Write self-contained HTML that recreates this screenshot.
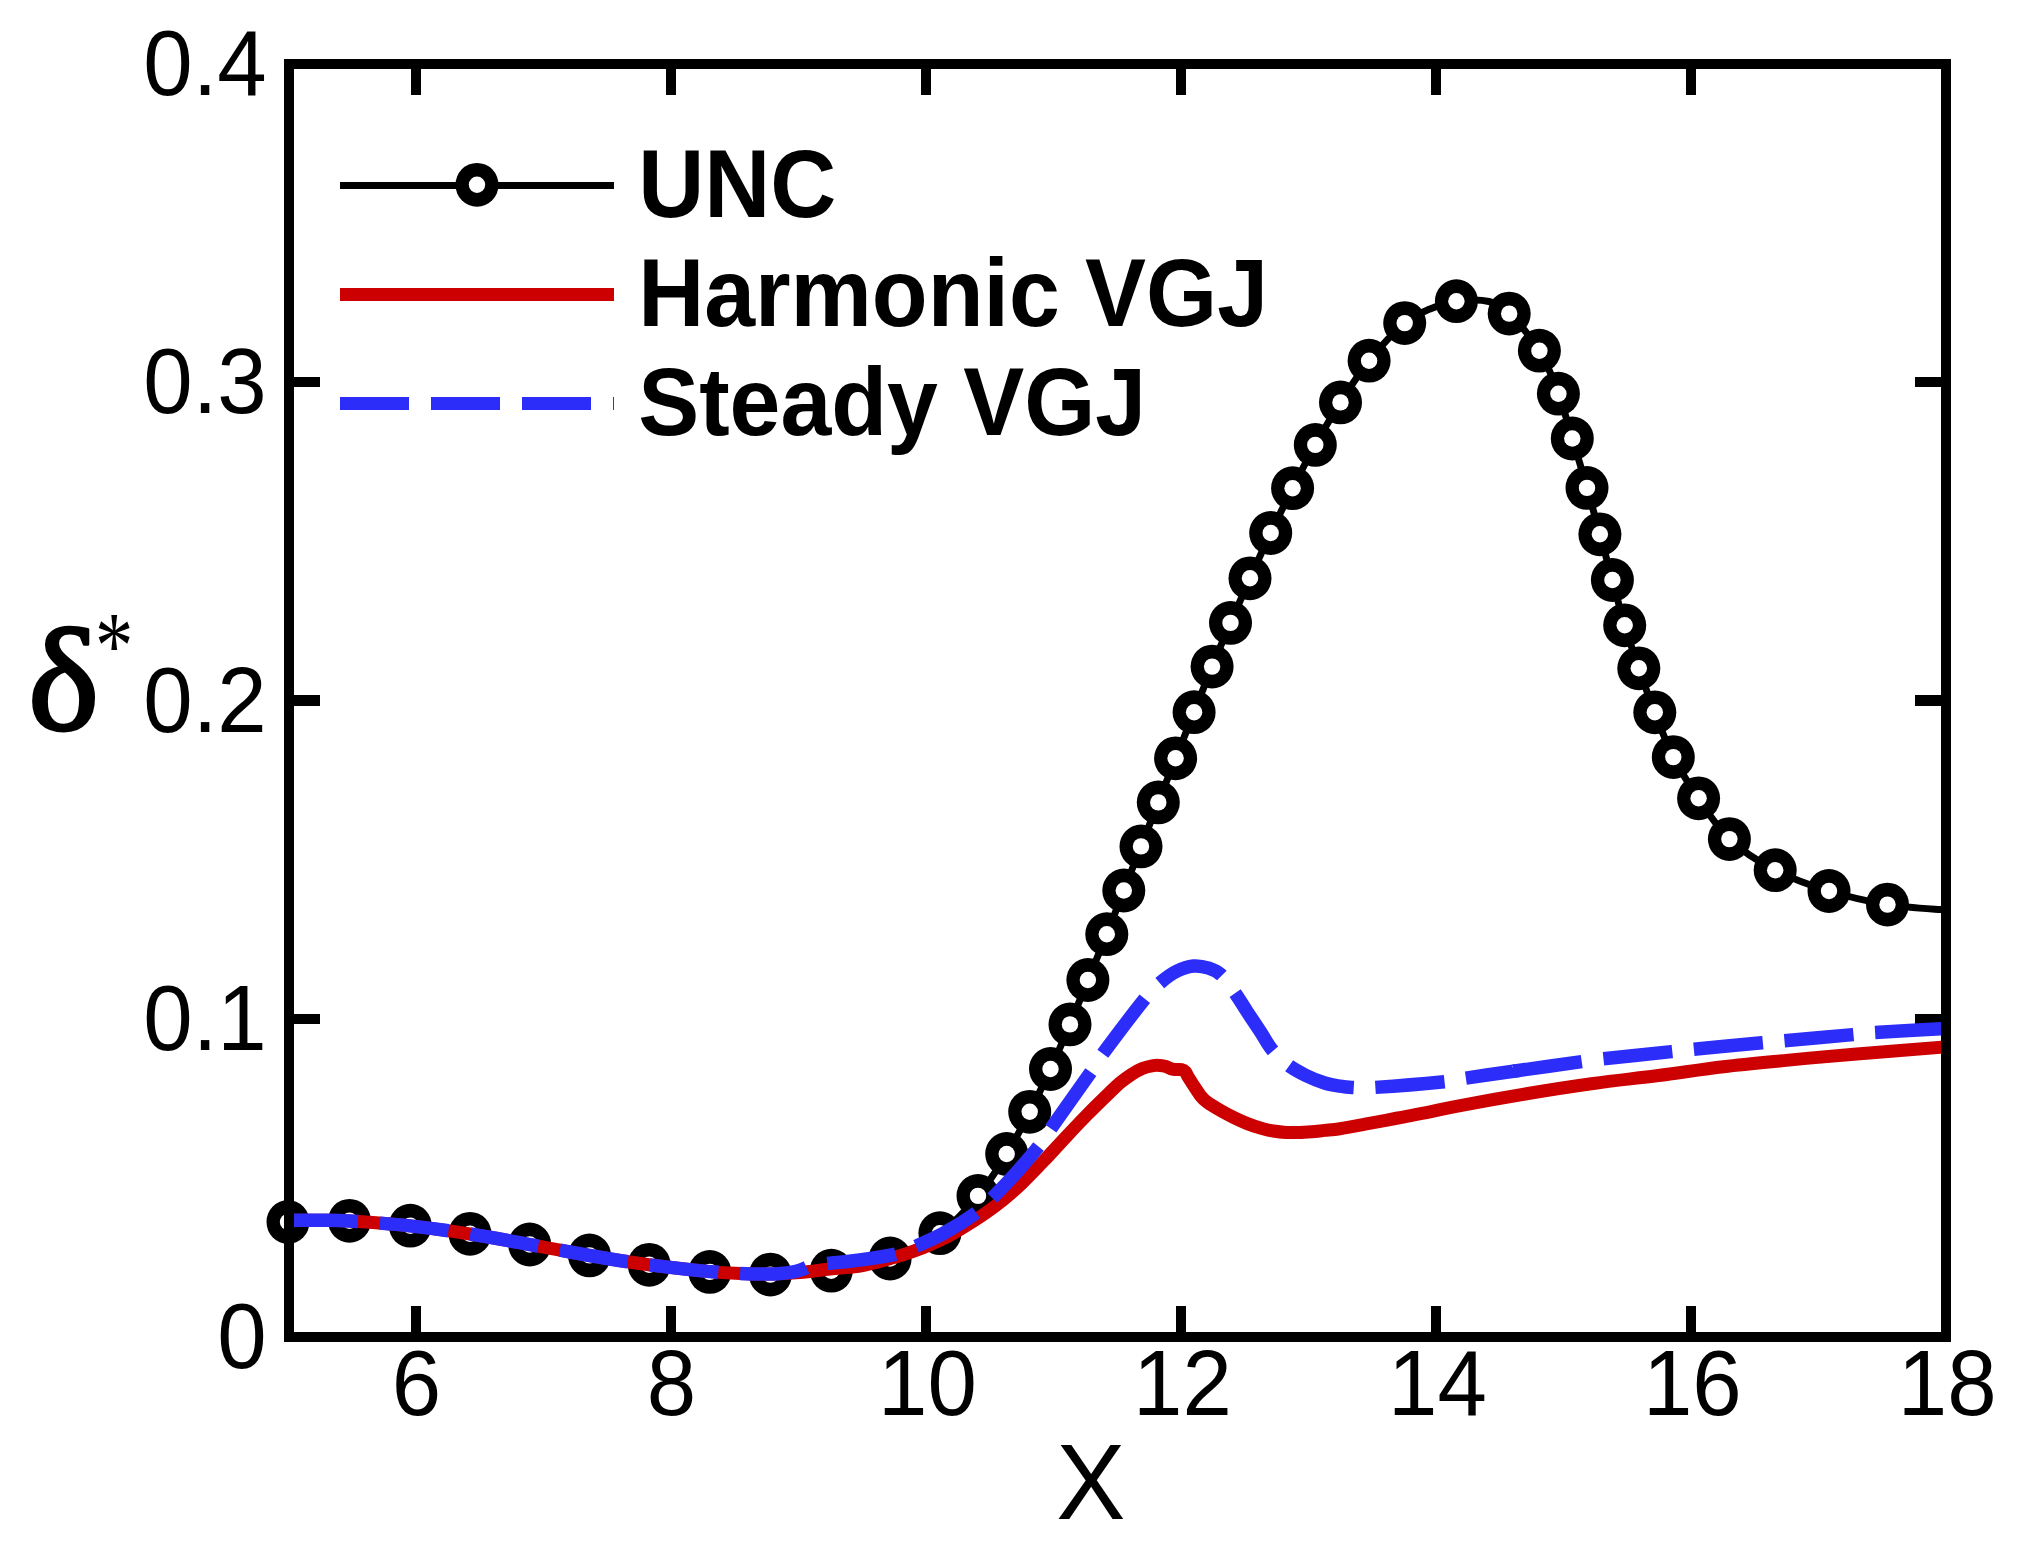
<!DOCTYPE html>
<html lang="en"><head><meta charset="utf-8"><title>Displacement thickness</title>
<style>html,body{margin:0;padding:0;background:#fff;}body{width:2026px;height:1553px;overflow:hidden;}svg{display:block;}.t{font-family:"Liberation Sans",sans-serif;fill:#000;}.tb{font-family:"Liberation Sans",sans-serif;font-weight:bold;fill:#000;}.ts{font-family:"Liberation Serif","DejaVu Serif",serif;fill:#000;}</style></head><body>
<svg width="2026" height="1553" viewBox="0 0 2026 1553">
<rect x="0" y="0" width="2026" height="1553" fill="#fff"/>
<defs><clipPath id="vp"><rect x="294.0" y="69.0" width="1647.0" height="1263.0"/></clipPath><g id="mk"><ellipse rx="21.5" ry="21.9" fill="#000"/><circle r="8.2" fill="#fff"/></g></defs>
<g stroke="#000" stroke-width="10.0" fill="none" shape-rendering="crispEdges">
<line x1="416.0" y1="1337.0" x2="416.0" y2="1306.0"/>
<line x1="416.0" y1="64.0" x2="416.0" y2="95.0"/>
<line x1="671.0" y1="1337.0" x2="671.0" y2="1306.0"/>
<line x1="671.0" y1="64.0" x2="671.0" y2="95.0"/>
<line x1="926.0" y1="1337.0" x2="926.0" y2="1306.0"/>
<line x1="926.0" y1="64.0" x2="926.0" y2="95.0"/>
<line x1="1181.0" y1="1337.0" x2="1181.0" y2="1306.0"/>
<line x1="1181.0" y1="64.0" x2="1181.0" y2="95.0"/>
<line x1="1436.0" y1="1337.0" x2="1436.0" y2="1306.0"/>
<line x1="1436.0" y1="64.0" x2="1436.0" y2="95.0"/>
<line x1="1691.0" y1="1337.0" x2="1691.0" y2="1306.0"/>
<line x1="1691.0" y1="64.0" x2="1691.0" y2="95.0"/>
<line x1="289.0" y1="1019.0" x2="320.0" y2="1019.0"/>
<line x1="1946.0" y1="1019.0" x2="1915.0" y2="1019.0"/>
<line x1="289.0" y1="700.5" x2="320.0" y2="700.5" stroke-width="11"/>
<line x1="1946.0" y1="700.5" x2="1915.0" y2="700.5" stroke-width="11"/>
<line x1="289.0" y1="382.0" x2="320.0" y2="382.0"/>
<line x1="1946.0" y1="382.0" x2="1915.0" y2="382.0"/>
</g>
<path clip-path="url(#vp)" d="M284.0,1222.0C284.7,1222.0 277.1,1222.2 288.0,1222.0C298.9,1221.8 329.1,1220.2 349.5,1220.8C369.9,1221.4 390.2,1223.5 410.3,1225.7C430.4,1227.9 450.1,1230.7 470.0,1233.8C489.9,1236.9 509.8,1240.9 529.7,1244.5C549.6,1248.1 569.6,1252.0 589.5,1255.4C609.4,1258.8 629.2,1262.0 649.2,1264.8C669.2,1267.5 689.6,1270.3 709.8,1271.9C730.0,1273.5 750.1,1274.8 770.4,1274.6C790.6,1274.4 811.3,1273.4 831.3,1270.7C851.2,1268.0 872.0,1264.8 890.1,1258.5C908.2,1252.2 925.2,1243.6 939.9,1233.2C954.5,1222.8 966.9,1209.1 978.0,1195.9C989.1,1182.7 998.1,1168.0 1006.7,1154.0C1015.3,1140.0 1022.4,1126.0 1029.7,1111.8C1037.0,1097.6 1043.8,1083.6 1050.5,1069.0C1057.2,1054.4 1063.8,1039.2 1070.0,1024.4C1076.2,1009.6 1081.8,995.0 1087.9,980.0C1094.0,965.0 1100.8,949.1 1106.8,934.2C1112.8,919.3 1118.1,905.1 1123.8,890.5C1129.5,875.9 1135.2,861.1 1141.0,846.4C1146.8,831.7 1152.5,817.1 1158.3,802.4C1164.1,787.7 1169.6,773.3 1175.6,758.3C1181.6,743.3 1188.0,727.5 1194.1,712.2C1200.2,696.9 1206.0,681.5 1212.1,666.6C1218.2,651.7 1224.2,637.6 1230.5,622.9C1236.8,608.2 1243.3,593.3 1250.0,578.3C1256.7,563.3 1263.6,548.0 1270.7,533.0C1277.8,518.0 1285.2,502.9 1292.6,488.2C1300.0,473.5 1307.3,459.2 1315.3,444.9C1323.3,430.6 1331.5,416.4 1340.5,402.4C1349.5,388.4 1358.4,373.9 1369.1,360.7C1379.8,347.5 1394.5,331.7 1404.7,323.1C1414.9,314.5 1421.4,312.6 1430.0,309.0C1438.6,305.4 1446.6,302.4 1456.4,301.2C1466.2,299.9 1480.2,299.4 1489.0,301.5C1497.8,303.6 1500.8,305.4 1509.2,313.6C1517.6,321.8 1531.2,337.4 1539.4,350.7C1547.6,364.0 1552.9,379.1 1558.4,393.7C1563.9,408.3 1567.5,422.8 1572.3,438.5C1577.1,454.2 1582.4,471.9 1587.0,487.9C1591.6,503.9 1595.7,518.9 1599.9,534.3C1604.1,549.6 1608.3,564.8 1612.4,580.0C1616.5,595.2 1620.3,610.6 1624.7,625.3C1629.1,640.0 1633.8,653.8 1638.8,668.3C1643.8,682.8 1649.0,697.5 1654.8,712.3C1660.5,727.1 1666.0,742.8 1673.3,757.1C1680.6,771.4 1689.2,784.6 1698.6,798.3C1707.9,812.0 1716.6,827.1 1729.4,839.1C1742.2,851.1 1758.6,861.6 1775.2,870.2C1791.8,878.9 1810.3,885.3 1829.0,891.0C1847.7,896.7 1868.0,901.4 1887.5,904.6C1907.0,907.8 1936.2,909.1 1946.0,910.0" fill="none" stroke="#000" stroke-width="7" stroke-linejoin="round"/>
<use href="#mk" x="288.0" y="1222.0"/>
<use href="#mk" x="349.5" y="1220.8"/>
<use href="#mk" x="410.3" y="1225.7"/>
<use href="#mk" x="470.0" y="1233.8"/>
<use href="#mk" x="529.7" y="1244.5"/>
<use href="#mk" x="589.5" y="1255.4"/>
<use href="#mk" x="649.2" y="1264.8"/>
<use href="#mk" x="709.8" y="1271.9"/>
<use href="#mk" x="770.4" y="1274.6"/>
<use href="#mk" x="831.3" y="1270.7"/>
<use href="#mk" x="890.1" y="1258.5"/>
<use href="#mk" x="939.9" y="1233.2"/>
<use href="#mk" x="978.0" y="1195.9"/>
<use href="#mk" x="1006.7" y="1154.0"/>
<use href="#mk" x="1029.7" y="1111.8"/>
<use href="#mk" x="1050.5" y="1069.0"/>
<use href="#mk" x="1070.0" y="1024.4"/>
<use href="#mk" x="1087.9" y="980.0"/>
<use href="#mk" x="1106.8" y="934.2"/>
<use href="#mk" x="1123.8" y="890.5"/>
<use href="#mk" x="1141.0" y="846.4"/>
<use href="#mk" x="1158.3" y="802.4"/>
<use href="#mk" x="1175.6" y="758.3"/>
<use href="#mk" x="1194.1" y="712.2"/>
<use href="#mk" x="1212.1" y="666.6"/>
<use href="#mk" x="1230.5" y="622.9"/>
<use href="#mk" x="1250.0" y="578.3"/>
<use href="#mk" x="1270.7" y="533.0"/>
<use href="#mk" x="1292.6" y="488.2"/>
<use href="#mk" x="1315.3" y="444.9"/>
<use href="#mk" x="1340.5" y="402.4"/>
<use href="#mk" x="1369.1" y="360.7"/>
<use href="#mk" x="1404.7" y="323.1"/>
<use href="#mk" x="1456.4" y="301.2"/>
<use href="#mk" x="1509.2" y="313.6"/>
<use href="#mk" x="1539.4" y="350.7"/>
<use href="#mk" x="1558.4" y="393.7"/>
<use href="#mk" x="1572.3" y="438.5"/>
<use href="#mk" x="1587.0" y="487.9"/>
<use href="#mk" x="1599.9" y="534.3"/>
<use href="#mk" x="1612.4" y="580.0"/>
<use href="#mk" x="1624.7" y="625.3"/>
<use href="#mk" x="1638.8" y="668.3"/>
<use href="#mk" x="1654.8" y="712.3"/>
<use href="#mk" x="1673.3" y="757.1"/>
<use href="#mk" x="1698.6" y="798.3"/>
<use href="#mk" x="1729.4" y="839.1"/>
<use href="#mk" x="1775.2" y="870.2"/>
<use href="#mk" x="1829.0" y="891.0"/>
<use href="#mk" x="1887.5" y="904.6"/>
<path clip-path="url(#vp)" d="M289.0,1220.4C294.2,1220.4 309.9,1220.2 320.0,1220.3C330.1,1220.4 334.5,1220.1 349.5,1221.0C364.5,1221.9 389.9,1223.7 410.0,1225.9C430.1,1228.1 450.0,1230.9 470.0,1234.0C490.0,1237.1 510.1,1241.0 530.0,1244.6C549.9,1248.2 569.7,1252.1 589.5,1255.5C609.3,1258.9 628.9,1262.1 649.0,1264.8C669.1,1267.5 694.8,1270.2 710.0,1271.6C725.2,1273.0 730.0,1273.0 740.0,1273.4C750.0,1273.8 760.0,1274.1 770.0,1274.0C780.0,1273.9 790.0,1273.4 800.0,1272.6C810.0,1271.8 820.0,1270.1 830.0,1269.0C840.0,1267.9 850.0,1267.7 860.0,1266.0C870.0,1264.3 882.5,1260.6 890.0,1258.6C897.5,1256.6 898.8,1256.3 905.0,1254.2C911.2,1252.1 919.7,1249.1 927.0,1246.0C934.3,1242.9 942.2,1239.4 949.0,1235.8C955.8,1232.2 961.8,1228.3 968.0,1224.5C974.2,1220.7 980.2,1216.9 986.0,1212.8C991.8,1208.7 997.0,1204.9 1003.0,1200.0C1009.0,1195.1 1015.1,1189.8 1021.9,1183.3C1028.7,1176.8 1036.5,1168.6 1043.8,1160.9C1051.1,1153.2 1058.4,1145.0 1065.7,1137.2C1073.0,1129.4 1080.3,1121.6 1087.6,1114.2C1094.9,1106.8 1104.0,1098.0 1109.5,1092.7C1115.0,1087.4 1116.8,1085.5 1120.4,1082.5C1124.1,1079.5 1127.8,1076.7 1131.4,1074.4C1135.1,1072.1 1138.7,1070.1 1142.3,1068.6C1145.9,1067.1 1150.3,1066.1 1153.3,1065.6C1156.2,1065.1 1157.9,1065.3 1160.0,1065.5C1162.1,1065.7 1164.2,1066.1 1166.0,1066.6C1167.8,1067.1 1169.2,1068.2 1170.8,1068.7C1172.4,1069.2 1173.7,1069.3 1175.5,1069.5C1177.3,1069.7 1179.8,1069.3 1181.5,1069.7C1183.2,1070.1 1184.4,1070.8 1185.5,1072.0C1186.6,1073.2 1186.8,1074.7 1188.3,1077.2C1189.8,1079.7 1192.5,1083.7 1194.5,1086.8C1196.5,1089.9 1198.5,1093.2 1200.6,1095.8C1202.7,1098.4 1203.8,1099.7 1207.3,1102.3C1210.8,1104.9 1217.2,1108.6 1221.7,1111.2C1226.2,1113.8 1230.2,1115.8 1234.5,1117.9C1238.8,1120.0 1243.1,1121.9 1247.4,1123.6C1251.7,1125.3 1256.0,1126.8 1260.3,1128.0C1264.6,1129.2 1268.9,1130.3 1273.2,1131.0C1277.5,1131.7 1281.8,1132.2 1286.1,1132.4C1290.4,1132.7 1294.6,1132.6 1298.9,1132.5C1303.2,1132.4 1307.5,1132.1 1311.8,1131.8C1316.1,1131.5 1320.0,1130.9 1324.7,1130.4C1329.4,1129.9 1333.3,1129.7 1340.0,1128.7C1346.7,1127.7 1355.4,1126.0 1365.0,1124.2C1374.6,1122.4 1386.9,1120.1 1397.7,1118.0C1408.5,1115.9 1419.1,1114.0 1430.0,1111.8C1440.9,1109.6 1446.6,1108.1 1462.9,1105.1C1479.2,1102.0 1506.3,1097.1 1528.0,1093.5C1549.7,1089.9 1571.5,1086.5 1593.2,1083.5C1614.9,1080.5 1636.6,1078.3 1658.3,1075.5C1680.0,1072.7 1701.8,1069.3 1723.5,1066.7C1745.2,1064.1 1766.9,1062.2 1788.6,1060.1C1810.3,1058.0 1827.6,1056.4 1853.8,1054.2C1880.0,1052.0 1930.6,1048.0 1946.0,1046.8" fill="none" stroke="#cc0000" stroke-width="13" stroke-linejoin="round"/>
<path clip-path="url(#vp)" d="M289.0,1220.4C294.2,1220.4 309.9,1220.2 320.0,1220.3C330.1,1220.4 334.5,1220.1 349.5,1221.0C364.5,1221.9 389.9,1223.7 410.0,1225.9C430.1,1228.1 450.0,1230.9 470.0,1234.0C490.0,1237.1 510.1,1241.0 530.0,1244.6C549.9,1248.2 569.7,1252.1 589.5,1255.5C609.3,1258.9 628.9,1262.1 649.0,1264.8C669.1,1267.5 694.8,1270.2 710.0,1271.6C725.2,1273.0 730.0,1273.0 740.0,1273.4C750.0,1273.8 763.3,1274.0 770.0,1274.0C776.7,1274.0 776.3,1273.9 780.0,1273.6C783.7,1273.3 788.7,1272.8 792.0,1272.2C795.3,1271.6 797.6,1271.0 800.0,1270.2C802.4,1269.4 805.4,1267.9 806.5,1267.4" fill="none" stroke="#2d2dfa" stroke-width="13.5" stroke-dasharray="69 22" stroke-linejoin="round"/>
<path clip-path="url(#vp)" d="M827.3,1263.4C832.8,1262.8 848.5,1261.6 860.0,1260.0C871.5,1258.4 886.8,1256.4 896.3,1254.0C905.8,1251.6 908.9,1249.4 917.0,1245.8C925.1,1242.2 935.0,1238.1 945.0,1232.5C955.0,1226.9 968.8,1218.2 977.0,1212.2C985.2,1206.2 987.5,1202.7 994.0,1196.2C1000.5,1189.7 1008.6,1181.3 1016.0,1173.0C1023.4,1164.7 1032.5,1154.2 1038.4,1146.6C1044.4,1139.0 1042.9,1139.9 1051.7,1127.4C1060.5,1114.9 1082.4,1084.2 1091.0,1071.8C1099.6,1059.4 1094.2,1065.5 1103.2,1053.3C1112.2,1041.1 1135.5,1010.4 1145.0,998.6C1154.5,986.8 1155.2,987.0 1160.5,982.5C1165.8,978.0 1171.1,974.0 1176.6,971.3C1182.1,968.5 1187.9,966.5 1193.3,966.0C1198.7,965.5 1204.2,966.7 1208.8,968.2C1213.4,969.7 1216.7,970.8 1221.0,974.8C1225.3,978.8 1230.1,986.0 1234.5,992.2C1238.9,998.4 1243.1,1005.6 1247.4,1012.1C1251.7,1018.6 1256.2,1025.2 1260.3,1031.4C1264.4,1037.6 1267.3,1043.9 1271.9,1049.5C1276.5,1055.1 1282.4,1060.6 1288.0,1064.9C1293.6,1069.2 1299.3,1072.2 1305.4,1075.2C1311.5,1078.2 1318.9,1081.2 1324.7,1083.0C1330.5,1084.8 1335.4,1085.5 1340.0,1086.2C1344.6,1087.0 1346.5,1087.3 1352.1,1087.5C1357.6,1087.7 1358.4,1088.4 1373.3,1087.5C1388.2,1086.6 1426.8,1083.5 1441.7,1082.0C1456.6,1080.5 1451.0,1080.3 1462.9,1078.5C1474.9,1076.7 1504.8,1072.4 1513.4,1071.2C1522.0,1070.0 1514.4,1071.1 1514.6,1071.0" fill="none" stroke="#2d2dfa" stroke-width="13.5" stroke-dasharray="69 22" stroke-linejoin="round"/>
<path clip-path="url(#vp)" d="M1513.4,1071.2C1524.8,1069.6 1566.9,1063.7 1581.8,1061.6C1596.7,1059.5 1588.1,1060.5 1603.0,1058.8C1617.9,1057.1 1656.5,1053.2 1671.4,1051.6C1686.3,1050.0 1677.4,1050.9 1692.5,1049.4C1707.6,1047.9 1746.8,1044.2 1761.9,1042.8C1777.0,1041.4 1767.9,1042.3 1783.1,1040.9C1798.2,1039.5 1837.6,1036.0 1852.8,1034.6C1868.0,1033.2 1858.5,1033.6 1874.0,1032.6C1889.5,1031.6 1934.0,1029.2 1946.0,1028.5" fill="none" stroke="#2d2dfa" stroke-width="13.5" stroke-dasharray="69 22" stroke-linejoin="round"/>
<rect x="289.0" y="64.0" width="1657.0" height="1273.0" fill="none" stroke="#000" stroke-width="10.0" shape-rendering="crispEdges"/>
<text class="t" font-size="88.8" text-anchor="end" transform="translate(266.7,1368.0) scale(1,1.05)">0</text>
<text class="t" font-size="88.8" text-anchor="end" transform="translate(266.7,1049.8) scale(1,1.05)">0.1</text>
<text class="t" font-size="88.8" text-anchor="end" transform="translate(266.7,731.5) scale(1,1.05)">0.2</text>
<text class="t" font-size="88.8" text-anchor="end" transform="translate(266.7,413.3) scale(1,1.05)">0.3</text>
<text class="t" font-size="88.8" text-anchor="end" transform="translate(266.7,95.0) scale(1,1.05)">0.4</text>
<text class="t" font-size="88.8" text-anchor="middle" transform="translate(416.5,1415) scale(1,1.05)">6</text>
<text class="t" font-size="88.8" text-anchor="middle" transform="translate(671.4,1415) scale(1,1.05)">8</text>
<text class="t" font-size="88.8" text-anchor="middle" transform="translate(927.5,1415) scale(1,1.05)">10</text>
<text class="t" font-size="88.8" text-anchor="middle" transform="translate(1182.4,1415) scale(1,1.05)">12</text>
<text class="t" font-size="88.8" text-anchor="middle" transform="translate(1437.4,1415) scale(1,1.05)">14</text>
<text class="t" font-size="88.8" text-anchor="middle" transform="translate(1692.3,1415) scale(1,1.05)">16</text>
<text class="t" font-size="88.8" text-anchor="middle" transform="translate(1947.2,1415) scale(1,1.05)">18</text>
<text class="t" font-size="103.7" text-anchor="middle" transform="translate(1090.8,1519) scale(1,1.035)">X</text>
<text class="ts" font-size="146" stroke="#000" stroke-width="3.0" stroke-linejoin="round" transform="translate(28.0,730.0) scale(1.035,1.004)">δ</text>
<text class="ts" font-size="90" transform="translate(95.0,677.6) scale(0.851,1.062)">*</text>
<line x1="340" y1="185.4" x2="614" y2="185.4" stroke="#000" stroke-width="7"/>
<use href="#mk" x="477" y="184.8"/>
<line x1="340" y1="294.5" x2="614" y2="294.5" stroke="#cc0000" stroke-width="13"/>
<line x1="340" y1="403.5" x2="614" y2="403.5" stroke="#2d2dfa" stroke-width="13" stroke-dasharray="69 22"/>
<text class="tb" font-size="91.4" transform="translate(638.2,217.2) scale(1,1.054)">UNC</text>
<text class="tb" font-size="91.4" transform="translate(638.2,326.2) scale(1,1.054)">Harmonic VGJ</text>
<text class="tb" font-size="91.4" transform="translate(638.2,435.2) scale(1,1.054)">Steady VGJ</text>
</svg></body></html>
